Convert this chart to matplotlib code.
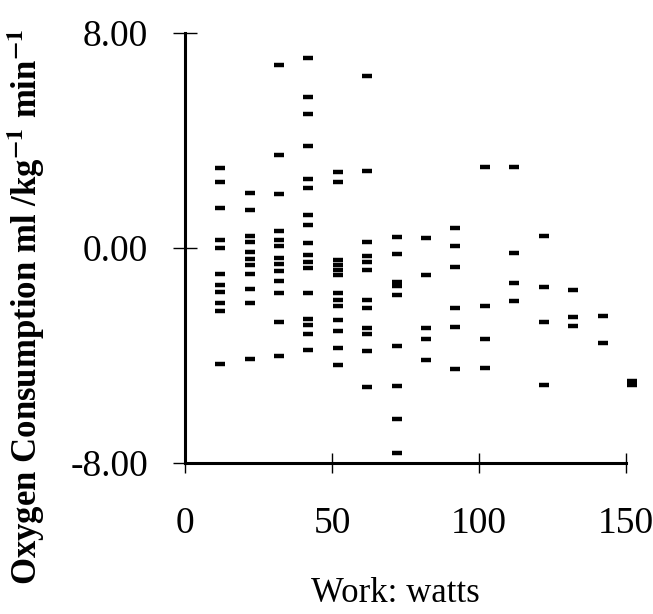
import numpy as np
import matplotlib
matplotlib.use('Agg')
import matplotlib.pyplot as plt

#work load of each column of points (watts)
work = [12, 22, 32, 42, 52, 62, 72, 82, 92, 102, 112, 122, 132, 142, 152]

#oxygen consumption residuals read for each work load
oxy_12 = [2.96, 2.46, 1.47, 0.30, 0.00, -0.96, -1.39, -1.64, -2.04, -2.34, -4.33]
oxy_22 = [2.05, 1.42, 0.45, 0.22, -0.15, -0.41, -0.63, -0.97, -1.53, -2.05, -4.14]
oxy_32 = [6.80, 3.46, 2.01, 0.62, 0.30, 0.07, -0.37, -0.60, -0.86, -1.21, -1.69, -2.76, -4.00]
oxy_42 = [7.07, 5.63, 4.97, 3.81, 2.55, 2.22, 1.23, 0.87, 0.19, -0.27, -0.52, -0.75,
          -1.66, -2.65, -2.87, -3.21, -3.79]
oxy_52 = [2.82, 2.44, -0.45, -0.63, -0.82, -1.01, -1.66, -1.94, -2.16, -2.69, -3.07, -3.71, -4.37]
oxy_62 = [6.41, 2.87, 0.24, -0.30, -0.52, -0.82, -1.93, -2.24, -2.99, -3.21, -3.82, -5.17]
oxy_72 = [0.40, -0.21, -1.27, -1.42, -1.74, -3.64, -5.15, -6.36, -7.61]
oxy_82 = [0.39, -1.00, -2.99, -3.40, -4.16]
oxy_92 = [0.73, 0.09, -0.72, -2.23, -2.95, -4.51]
oxy_102 = [3.02, -2.16, -3.38, -4.48]
oxy_112 = [3.01, -0.19, -1.31, -1.99]
oxy_122 = [0.44, -1.46, -2.77, -5.10]
oxy_132 = [-1.56, -2.55, -2.90]
oxy_142 = [-2.52, -3.54]
oxy_152 = [-4.93, -5.11]

columns = [oxy_12, oxy_22, oxy_32, oxy_42, oxy_52, oxy_62, oxy_72, oxy_82,
           oxy_92, oxy_102, oxy_112, oxy_122, oxy_132, oxy_142, oxy_152]

xs = []
ys = []
for w, col in zip(work, columns):
    xs += [w] * len(col)
    ys += col

plt.rcParams['font.family'] = 'Liberation Serif'
plt.rcParams['mathtext.fontset'] = 'stix'

fig = plt.figure(figsize=(6.53, 6.14), dpi=100)
ax = fig.add_axes([0.2833, 0.2459, 0.9587 - 0.2833, 0.9463 - 0.2459])

ax.plot(xs, ys, linestyle='none', marker='_', markersize=6.5,
        markeredgewidth=3.2, color='black', clip_on=False)

ax.set_xlim(0, 150)
ax.set_ylim(-8, 8)

for s in ['top', 'right']:
    ax.spines[s].set_visible(False)
for s in ['left', 'bottom']:
    ax.spines[s].set_linewidth(2.2)

ax.set_xticks([0, 50, 100, 150])
ax.set_yticks([-8, 0, 8])
ax.set_yticklabels(['-8.00', '0.00', '8.00'])
ax.tick_params(axis='y', direction='inout', length=17, width=1, pad=18, labelsize=27)
ax.tick_params(axis='x', direction='inout', length=15, width=1, pad=24, labelsize=27)

fig.text(0.605, 0.033, 'Work: watts', ha='center', va='center', fontsize=25)
fig.text(0.04, 0.50, r'Oxygen Consumption ml /kg$^{\mathbf{-1}}$ min$^{\mathbf{-1}}$',
         rotation=90, ha='center', va='center', fontsize=25, fontweight='bold')

fig.savefig('out.png', dpi=100)
